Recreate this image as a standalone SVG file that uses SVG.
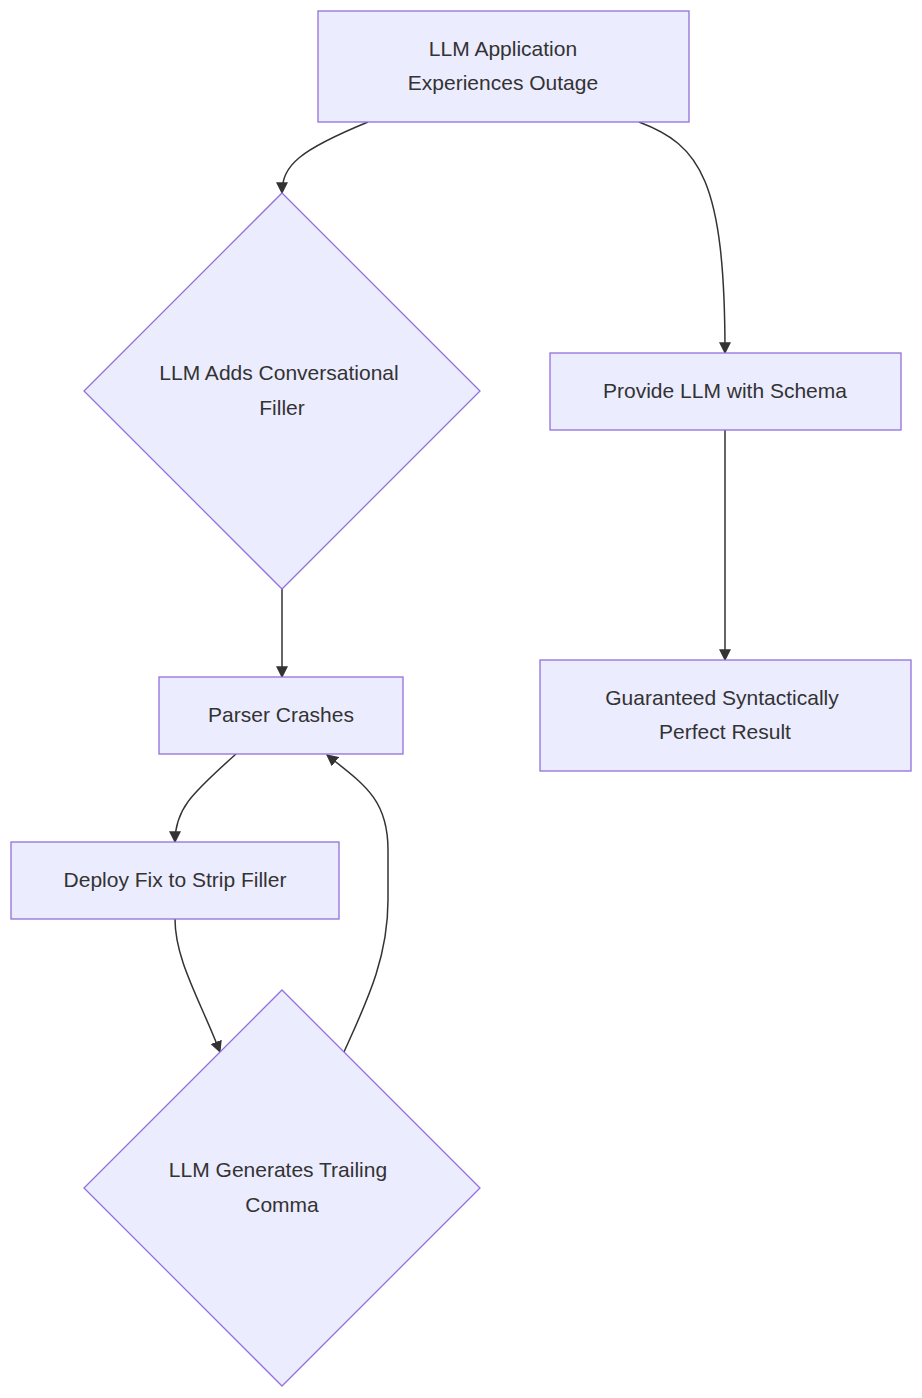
<svg xmlns="http://www.w3.org/2000/svg" width="922" height="1398" viewBox="0 0 922 1398">
<style>
.n{fill:#ECECFF;stroke:#9370DB;stroke-width:1.3}
.t{font-family:"Liberation Sans",Arial,sans-serif;font-size:21px;fill:#333;text-anchor:middle}
.e{fill:none;stroke:#333;stroke-width:1.5;marker-end:url(#a)}
</style>
<defs><marker id="a" viewBox="0 0 10 10" refX="9" refY="5" markerWidth="8" markerHeight="8" orient="auto"><path d="M0,0L10,5L0,10z" fill="#333"/></marker></defs>
<rect width="922" height="1398" fill="#fff"/>
<g id="edges">
<path class="e" d="M368,122 C300,150 282,165 282,193"/>
<path class="e" d="M639,122 C700,145 725,180 725,353"/>
<path class="e" d="M282,589 L282,677"/>
<path class="e" d="M725,430 L725,660"/>
<path class="e" d="M236,754 C190,795 175,810 175,842"/>
<path class="e" d="M175,919 C175,960 200,1000 220,1052"/>
<path class="e" d="M344,1052 C365,1005 388,960 388,900 L388,850 C388,800 365,785 327,755"/>
</g>
<g id="n1"><rect class="n" x="318" y="11" width="371" height="111"/><text class="t" x="503" y="56">LLM Application</text><text class="t" x="503" y="90">Experiences Outage</text></g>
<g id="n2"><polygon class="n" points="282,193 480,391 282,589 84,391"/><text class="t" x="279" y="380">LLM Adds Conversational</text><text class="t" x="282" y="415">Filler</text></g>
<g id="n3"><rect class="n" x="550" y="353" width="351" height="77"/><text class="t" x="725" y="398">Provide LLM with Schema</text></g>
<g id="n4"><rect class="n" x="159" y="677" width="244" height="77"/><text class="t" x="281" y="722">Parser Crashes</text></g>
<g id="n5"><rect class="n" x="540" y="660" width="371" height="111"/><text class="t" x="722" y="705">Guaranteed Syntactically</text><text class="t" x="725" y="739">Perfect Result</text></g>
<g id="n6"><rect class="n" x="11" y="842" width="328" height="77"/><text class="t" x="175" y="887">Deploy Fix to Strip Filler</text></g>
<g id="n7"><polygon class="n" points="282,990 480,1188 282,1386 84,1188"/><text class="t" x="278" y="1177">LLM Generates Trailing</text><text class="t" x="282" y="1212">Comma</text></g>
</svg>
